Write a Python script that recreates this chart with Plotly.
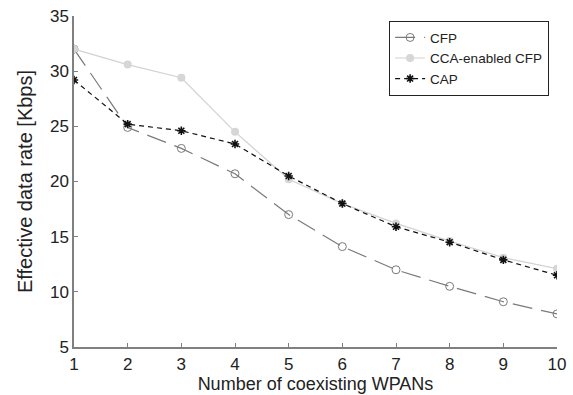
import plotly.graph_objects as go

x_vals = [1, 2, 3, 4, 5, 6, 7, 8, 9, 10]
cfp = [32.0, 24.9, 23.0, 20.7, 17.0, 14.1, 12.0, 10.5, 9.1, 8.0]
cca_cfp = [32.0, 30.6, 29.4, 24.5, 20.2, 18.0, 16.2, 14.6, 13.1, 12.1]
cap = [29.2, 25.2, 24.6, 23.4, 20.5, 18.0, 15.9, 14.5, 12.9, 11.5]

fig = go.Figure()
fig.add_trace(go.Scatter(
    x=x_vals, y=cfp, name="CFP", mode="lines+markers",
    line=dict(color="#7a7a7a", width=1.2, dash="20px,9px"),
    marker=dict(symbol="circle-open", size=8, color="#7a7a7a", line=dict(width=1))))
fig.add_trace(go.Scatter(
    x=x_vals, y=cca_cfp, name="CCA-enabled CFP", mode="lines+markers",
    line=dict(color="#d2d2d2", width=1.2),
    marker=dict(symbol="circle", size=8, color="#d6d6d6")))
fig.add_trace(go.Scatter(
    x=x_vals, y=cap, name="CAP", mode="lines+markers",
    line=dict(color="#111111", width=1.2, dash="5px,4px"),
    marker=dict(symbol="asterisk-open", size=7, color="#111111", line=dict(width=1.6, color="#111111"))))

axis_common = dict(showline=True, linecolor="#808080", linewidth=1.5, ticks="inside",
                   ticklen=4, tickcolor="#808080", showgrid=False, zeroline=False,
                   mirror=False, automargin=False, tickfont=dict(size=17, color="#222"))

fig.update_layout(
    width=573, height=395,
    margin=dict(l=74, r=16, t=16, b=48),
    paper_bgcolor="white", plot_bgcolor="white",
    font=dict(family="Liberation Sans, Arial, sans-serif", color="#222"),
    xaxis=dict(range=[1, 10], dtick=1, ticklabelstandoff=1,
               title=dict(text="Number of coexisting WPANs", font=dict(size=18), standoff=3),
               **axis_common),
    yaxis=dict(range=[5, 35], dtick=5,
               title=dict(text="Effective data rate [Kbps]", font=dict(size=20), standoff=12),
               **axis_common),
    legend=dict(x=0.652, y=0.985, xanchor="left", yanchor="top",
                bordercolor="#222", borderwidth=1.2, bgcolor="white",
                font=dict(size=13.5, color="#222"), tracegroupgap=0, itemwidth=30),
    showlegend=True,
)

fig.write_html("out.html")
